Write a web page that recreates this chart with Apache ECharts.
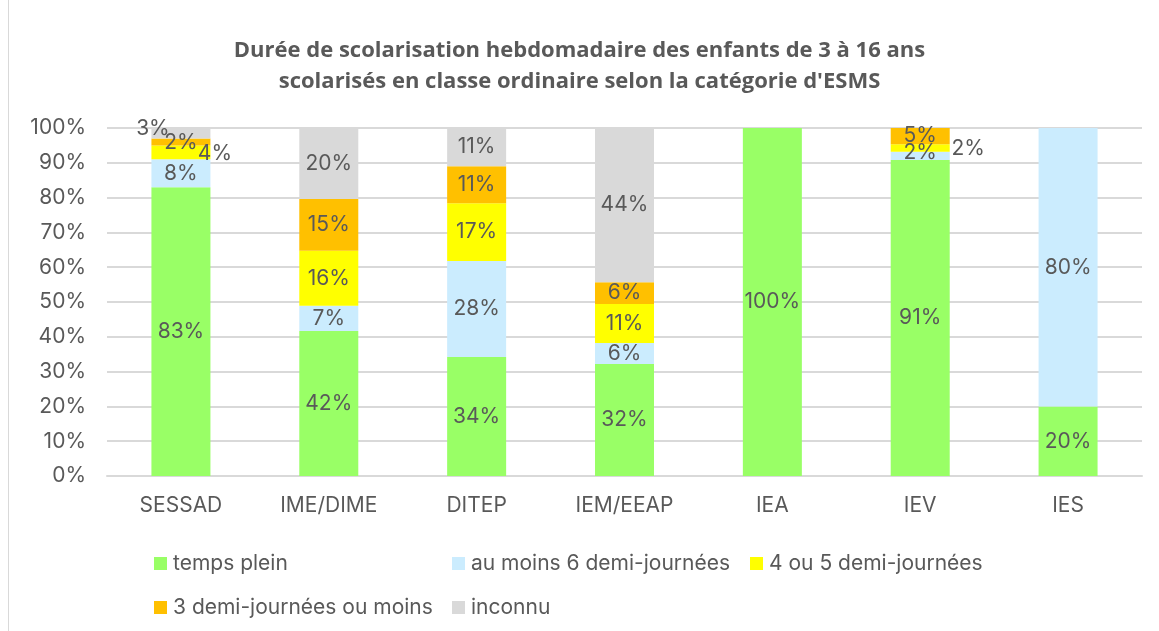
<!DOCTYPE html>
<html>
<head>
<meta charset="utf-8">
<script src="https://cdn.jsdelivr.net/npm/echarts@6/dist/echarts.min.js"></script>
<style>
  html, body { margin: 0; padding: 0; background: #fff; }
  #chart { width: 1159px; height: 631px; }
  #frame { position: absolute; left: 8px; top: 0; width: 1px; height: 631px; background: #d9d9d9; }
</style>
</head>
<body>
<div id="chart"></div>
<div id="frame"></div>
<script>
  // categories and series (in %)
  const categories = ['SESSAD', 'IME/DIME', 'DITEP', 'IEM/EEAP', 'IEA', 'IEV', 'IES']
  const tempsPlein = [83, 41.7, 34.2, 32.2, 100, 90.8, 20]
  const auMoins6 = [8, 7.2, 27.6, 6, 0, 2.4, 80]
  const quatreOuCinq = [4, 15.8, 16.6, 11.2, 0, 2.1, 0]
  const troisOuMoins = [2, 14.9, 10.6, 6.3, 0, 4.7, 0]
  const inconnu = [3, 20.4, 11, 44.3, 0, 0, 0]
  const yTicks = [0, 10, 20, 30, 40, 50, 60, 70, 80, 90, 100]

  const textColor = '#595959'
  const font = 'Inter'
  const fontSize = 21

  // label tweaks for the thin slices (Excel pushed them outside)
  const labelTweaks = {
    'inconnu-0': { offset: [-28, -5] },
    'troisOuMoins-0': { offset: [0, 1] },
    'quatreOuCinq-0': { offset: [34, 1] },
    'auMoins6-5': { offset: [0, -3] },
    'quatreOuCinq-5': { offset: [48, 1] }
  }

  function buildData(key, values) {
    return values.map((v, i) => {
      const t = labelTweaks[key + '-' + i]
      const item = { value: v }
      if (t) item.label = { offset: t.offset }
      return item
    })
  }

  function makeSeries(name, key, values, color) {
    return {
      name,
      type: 'bar',
      stack: 'total',
      barWidth: 59,
      itemStyle: { color },
      label: {
        show: true,
        position: 'inside',
        color: textColor,
        fontFamily: font,
        fontSize,
        formatter: p => (p.value > 0 ? Math.round(p.value) + '%' : '')
      },
      data: buildData(key, values),
      animation: false
    }
  }

  const chart = echarts.init(document.getElementById('chart'))

  const legendBase = {
    top: 0,
    itemWidth: 13,
    itemHeight: 13,
    itemGap: 0,
    icon: 'rect',
    textStyle: { color: textColor, fontFamily: font, fontSize, padding: [0, 0, 0, 1] }
  }

  chart.setOption({
    backgroundColor: '#fff',
    title: {
      text: 'Durée de scolarisation hebdomadaire des enfants de 3 à 16 ans\nscolarisés en classe ordinaire selon la catégorie d\'ESMS',
      left: 'center',
      top: 30,
      textStyle: {
        color: textColor,
        fontFamily: 'Open Sans',
        fontWeight: 'bold',
        fontSize: 22,
        lineHeight: 31
      }
    },
    legend: [
      Object.assign({}, legendBase, { left: 149, top: 548, data: ['temps plein'] }),
      Object.assign({}, legendBase, { left: 447, top: 548, data: ['au moins 6 demi-journées'] }),
      Object.assign({}, legendBase, { left: 745, top: 548, data: ['4 ou 5 demi-journées'] }),
      Object.assign({}, legendBase, { left: 149, top: 592, data: ['3 demi-journées ou moins'] }),
      Object.assign({}, legendBase, { left: 447, top: 592, data: ['inconnu'] })
    ],
    grid: {
      left: 107,
      right: 17,
      top: 128,
      height: 348,
      containLabel: false
    },
    xAxis: {
      type: 'category',
      data: categories,
      axisTick: { show: false },
      axisLine: { lineStyle: { color: '#d9d9d9', width: 2 } },
      axisLabel: { color: textColor, fontFamily: font, fontSize, margin: 19 }
    },
    yAxis: {
      type: 'value',
      min: yTicks[0],
      max: yTicks[yTicks.length - 1],
      interval: 10,
      axisLine: { show: false },
      axisTick: { show: false },
      splitLine: { lineStyle: { color: '#d9d9d9', width: 2 } },
      axisLabel: { color: textColor, fontFamily: font, fontSize, margin: 21, formatter: '{value}%' }
    },
    series: [
      makeSeries('temps plein', 'tempsPlein', tempsPlein, '#99ff66'),
      makeSeries('au moins 6 demi-journées', 'auMoins6', auMoins6, '#cbecfe'),
      makeSeries('4 ou 5 demi-journées', 'quatreOuCinq', quatreOuCinq, '#ffff00'),
      makeSeries('3 demi-journées ou moins', 'troisOuMoins', troisOuMoins, '#ffc000'),
      makeSeries('inconnu', 'inconnu', inconnu, '#d9d9d9')
    ]
  })
</script>
</body>
</html>
